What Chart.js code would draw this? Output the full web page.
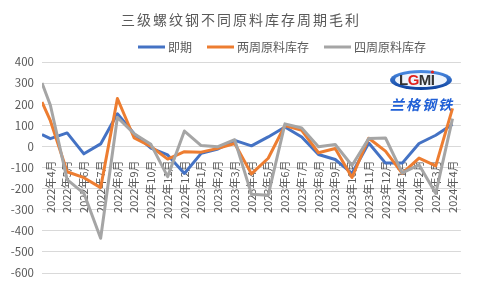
<!DOCTYPE html>
<html lang="zh">
<head>
<meta charset="UTF-8">
<title>三级螺纹钢不同原料库存周期毛利</title>
<script src="https://cdn.jsdelivr.net/npm/chart.js"></script>
<style>
  body { margin: 0; background: #fff; }
  .chart-container { position: relative; width: 480px; height: 288px; }
</style>
</head>
<body>
<div class="chart-container"><canvas id="profitChart"></canvas></div>
<script>
const chartTitle = '三级螺纹钢不同原料库存周期毛利';
const months = [
  '2022年4月', '2022年5月', '2022年6月', '2022年7月', '2022年8月', '2022年9月',
  '2022年10月', '2022年11月', '2022年12月', '2023年1月', '2023年2月', '2023年3月',
  '2023年4月', '2023年5月', '2023年6月', '2023年7月', '2023年8月', '2023年9月',
  '2023年10月', '2023年11月', '2023年12月', '2024年1月', '2024年2月', '2024年3月',
  '2024年4月'
];
// first value of every series sits half a period before 2022年4月 (left edge of the plot)
const positions = [-0.5].concat(months.map((m, i) => i));

const spot = [56, 37, 64, -35, 12, 155, 60, -8, -40, -128, -33, -12, 29, 3, 45, 92, 45, -38, -62, -128, 16, -79, -79, 14, 53, 105];
const twoWeek = [210, 122, -120, -148, -195, 227, 40, 0, -60, -25, -27, -9, 14, -130, -56, 99, 76, -30, -10, -147, 39, -22, -128, -55, -92, 180];
const fourWeek = [300, 195, -157, -222, -435, 138, 60, 10, -143, 73, 4, -1, 32, -226, -231, 107, 87, -1, 9, -90, 38, 40, -125, -87, -223, 132];

const seriesNames = ['即期', '两周原料库存', '四周原料库存'];
const seriesColors = ['#4472C4', '#ED7D31', '#A5A5A5'];
const seriesValues = [spot, twoWeek, fourWeek];

const yMin = -600, yMax = 400, yStep = 100;
const textColor = '#595959';
const cjkFont = '"Noto Sans CJK SC", "Noto Sans", sans-serif';

const datasets = seriesValues.map((vals, s) => ({
  label: seriesNames[s],
  data: vals.map((v, k) => ({ x: positions[k], y: v })),
  borderColor: seriesColors[s],
  backgroundColor: seriesColors[s],
  borderWidth: 3,
  borderJoinStyle: 'round',
  pointRadius: 0,
  tension: 0,
  order: 2 - s
}));

// title, legend and the watermark logo
const decorations = {
  id: 'decorations',
  beforeDatasetsDraw(chart) {
    const ctx = chart.ctx;
    ctx.save();
    // LGMI logo
    const cx = 421, cy = 80;
    const grad = ctx.createLinearGradient(0, cy - 10, 0, cy + 10);
    grad.addColorStop(0, '#4f8fe6');
    grad.addColorStop(1, '#0b3f9c');
    ctx.beginPath();
    ctx.ellipse(cx, cy, 31, 10, 0, 0, Math.PI * 2);
    ctx.fillStyle = grad;
    ctx.fill();
    ctx.beginPath();
    ctx.ellipse(cx, cy, 26, 7, 0, 0, Math.PI * 2);
    ctx.fillStyle = '#eef4fc';
    ctx.fill();
    ctx.font = 'bold 15px "Liberation Sans", sans-serif';
    ctx.textBaseline = 'middle';
    ctx.textAlign = 'left';
    const letters = [['L', '#333333'], ['G', '#e0201c'], ['M', '#333333'], ['I', '#333333']];
    let lx = cx - 22;
    letters.forEach(([ch, col]) => {
      ctx.fillStyle = col;
      ctx.fillText(ch, lx, cy + 1);
      lx += ctx.measureText(ch).width - 0.5;
    });
    ctx.fillStyle = '#e0201c';
    ctx.beginPath();
    ctx.arc(lx - 2, cy - 8, 1.6, 0, Math.PI * 2);
    ctx.fill();
    ctx.font = 'italic bold 14px ' + cjkFont;
    ctx.fillStyle = '#1f5fd6';
    ctx.letterSpacing = '2px';
    ctx.textAlign = 'center';
    ctx.fillText('兰格钢铁', cx + 1, 105);
    ctx.restore();
  },
  afterDraw(chart) {
    const ctx = chart.ctx;
    ctx.save();
    ctx.fillStyle = textColor;
    ctx.font = '14px ' + cjkFont;
    ctx.letterSpacing = '2px';
    ctx.textAlign = 'center';
    ctx.textBaseline = 'middle';
    ctx.fillText(chartTitle, 241, 20);
    ctx.letterSpacing = '0px';

    // legend
    ctx.font = '12px ' + cjkFont;
    const lineLen = 27, gap = 3, itemGap = 15, legendCenter = 282, legendY = 47;
    const widths = seriesNames.map(n => lineLen + gap + ctx.measureText(n).width);
    const total = widths.reduce((a, b) => a + b, 0) + itemGap * (widths.length - 1);
    let x = legendCenter - total / 2;
    ctx.textAlign = 'left';
    seriesNames.forEach((name, s) => {
      ctx.strokeStyle = seriesColors[s];
      ctx.lineWidth = 3;
      ctx.beginPath();
      ctx.moveTo(x, legendY);
      ctx.lineTo(x + lineLen, legendY);
      ctx.stroke();
      ctx.fillStyle = textColor;
      ctx.fillText(name, x + lineLen + gap, legendY);
      x += widths[s] + itemGap;
    });
    ctx.restore();
  }
};

const ctx = document.getElementById('profitChart').getContext('2d');
const profitChart = new Chart(ctx, {
  type: 'line',
  data: { datasets: datasets },
  options: {
    responsive: true,
    maintainAspectRatio: false,
    animation: false,
    layout: { padding: { top: 62, right: 14, bottom: 11, left: 0 } },
    plugins: {
      legend: { display: false },
      title: { display: false },
      tooltip: { enabled: false }
    },
    scales: {
      x: {
        type: 'linear',
        position: { y: 0 },
        min: -0.5,
        max: 24.5,
        afterBuildTicks(scale) {
          scale.ticks = months.map((m, i) => ({ value: i }));
        },
        ticks: {
          autoSkip: false,
          minRotation: 90,
          maxRotation: 90,
          padding: 14,
          color: textColor,
          font: { family: cjkFont, size: 11 },
          callback: (value) => months[value] || ''
        },
        grid: { display: false, drawTicks: false },
        border: { display: false }
      },
      y: {
        min: yMin,
        max: yMax,
        afterFit(scale) { scale.width = 42; },
        ticks: {
          stepSize: yStep,
          padding: 8,
          color: textColor,
          font: { family: cjkFont, size: 11.5 }
        },
        grid: { color: '#d9d9d9', lineWidth: 1, drawTicks: false },
        border: { display: false }
      }
    }
  },
  plugins: [decorations]
});
</script>
</body>
</html>
